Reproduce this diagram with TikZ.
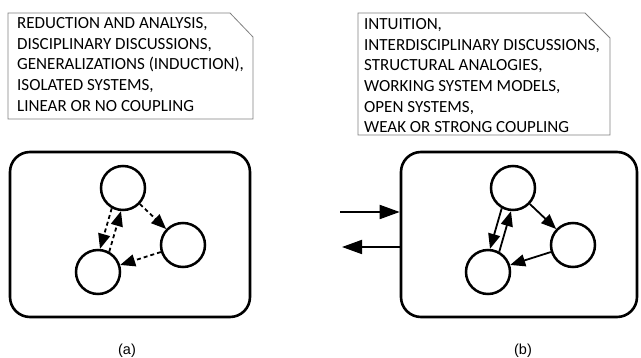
\documentclass[tikz,border=0pt]{standalone}
\usepackage{fontspec}
\setmainfont{Carlito}
\newfontfamily\capfont{Liberation Sans}
\usetikzlibrary{arrows.meta}

\begin{document}
\begin{tikzpicture}[x=1pt, y=-1pt,
	note/.style={draw=gray, line width=0.8pt},
	notetext/.style={anchor=north west, inner sep=0pt, align=left, font=\fontsize{17}{20.6}\selectfont},
	sysbox/.style={draw, line width=2.6pt, rounded corners=20pt, minimum width=240pt, minimum height=165pt},
	unit/.style={draw, circle, line width=2.5pt, minimum size=44pt, inner sep=0pt},
	link/.style={line width=1.8pt, -{Triangle[length=15pt, width=12pt]}},
	weak/.style={link, dash pattern=on 4pt off 3pt},
	port/.style={line width=1.8pt, -{Triangle[length=20pt, width=14pt]}}
	]
		\useasboundingbox (0,0) rectangle (641,358);
		
		%Notes
		\draw[note] (8,13) -- (230,13) -- (253,37) -- (253,119) -- (8,119) -- cycle;
		\draw[note] (358,13) -- (585,13) -- (610,38) -- (610,135) -- (358,135) -- cycle;
		\node[notetext] (notea) at (17,17.5) {REDUCTION AND ANALYSIS,\\DISCIPLINARY DISCUSSIONS,\\GENERALIZATIONS (INDUCTION),\\ISOLATED SYSTEMS,\\LINEAR OR NO COUPLING};
		\node[notetext] (noteb) at (364,18.5) {INTUITION,\\INTERDISCIPLINARY DISCUSSIONS,\\STRUCTURAL ANALOGIES,\\WORKING SYSTEM MODELS,\\OPEN SYSTEMS,\\WEAK OR STRONG COUPLING};
		
		%Systems
		\node[sysbox] (sysa) at (130,234.5) {};
		\node[sysbox, minimum width=236pt] (sysb) at (519,234.5) {};
		
		%Units
		\node[unit] (a1) at (123,188) {};
		\node[unit] (a2) at (183,245) {};
		\node[unit] (a3) at (98,272) {};
		\node[unit] (b1) at (513,188) {};
		\node[unit] (b2) at (573,245) {};
		\node[unit] (b3) at (488,272) {};
		
		%Couplings
		\foreach \s/\kind in {a/weak, b/link}
		{
			\draw[\kind] (\s1.241) -- (\s3.85);
			\draw[\kind] (\s3.61) -- (\s1.265);
			\draw[\kind] (\s1) -- (\s2);
			\draw[\kind] (\s2) -- (\s3);
		}
		
		%Exchange
		\coordinate (inb) at (340,212);
		\coordinate (outb) at (342,247);
		\draw[port] (inb) -- (inb -| sysb.west);
		\draw[port] (outb -| sysb.west) -- (outb);
		
		%Captions
		\node[font=\capfont\fontsize{14.5}{17}\selectfont] (capa) at (127,351) {(a)};
		\node[font=\capfont\fontsize{14.5}{17}\selectfont] (capb) at (523,351) {(b)};
		
	\end{tikzpicture}
\end{document}
